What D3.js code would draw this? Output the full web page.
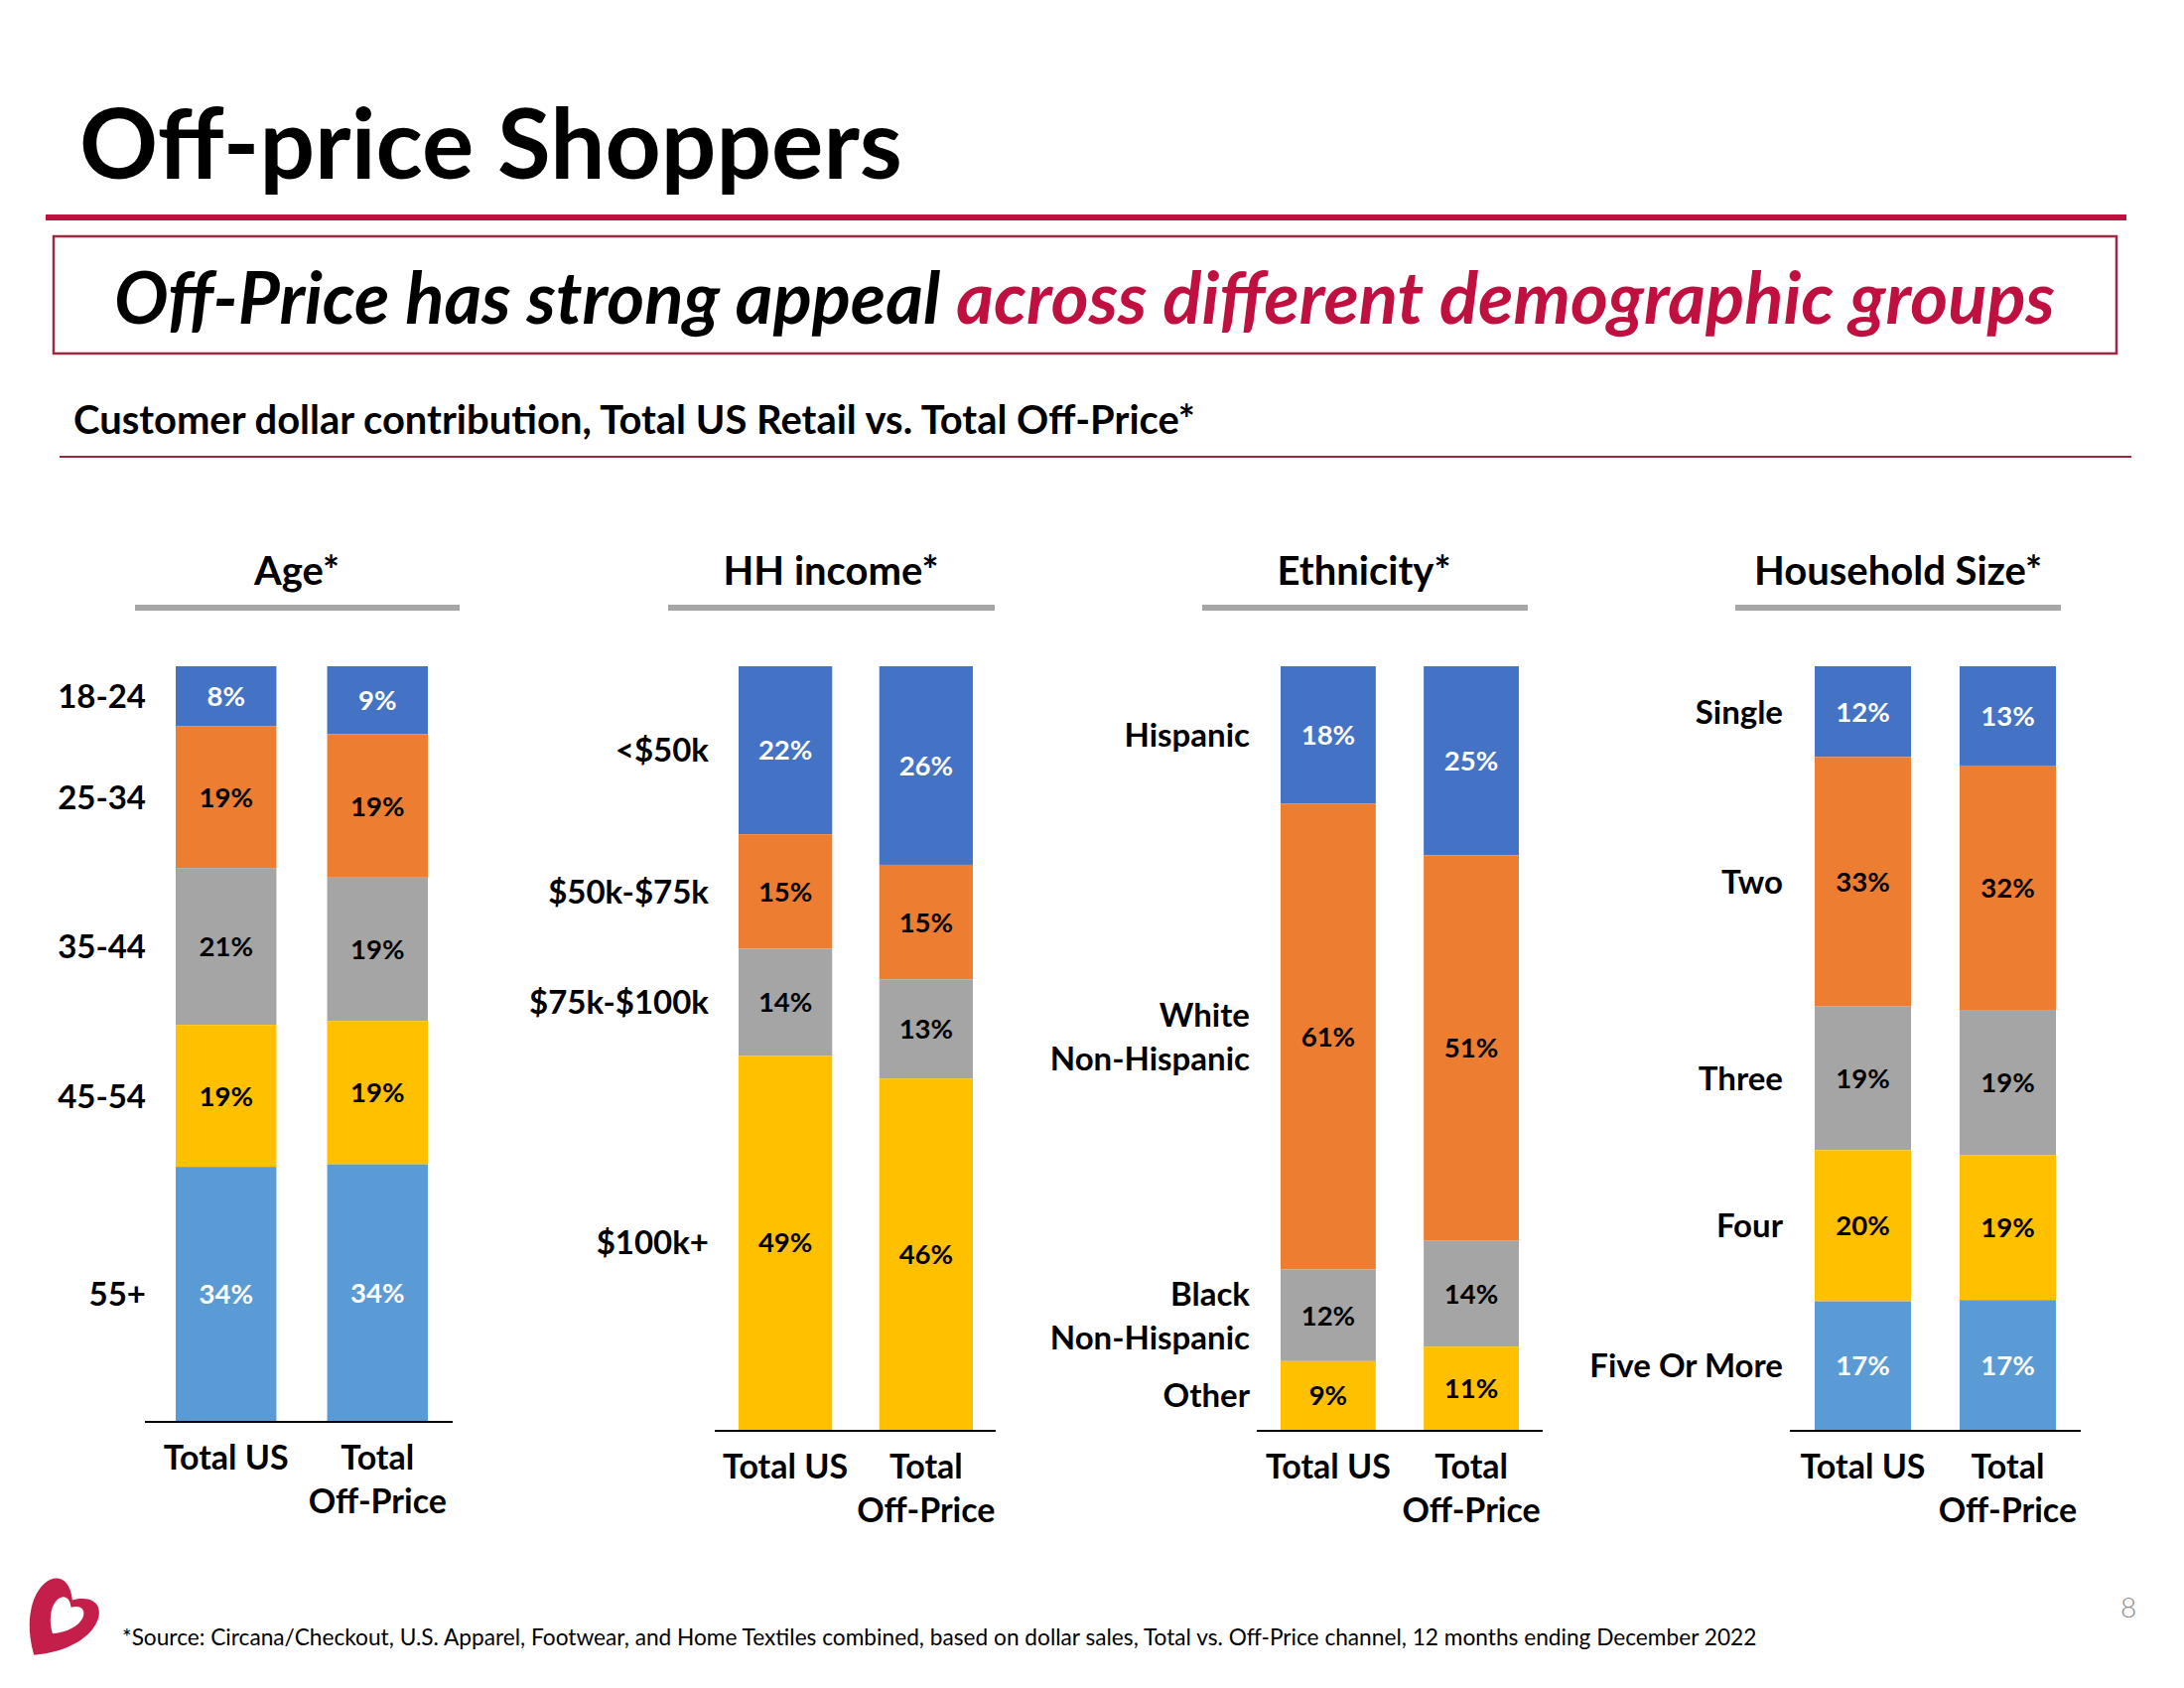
<!DOCTYPE html>
<html>
<head>
<meta charset="utf-8">
<script src="https://cdn.jsdelivr.net/npm/d3@7"></script>
<style>
  html, body { margin: 0; padding: 0; background: #fff; }
  svg { display: block; font-family: Lato, "Open Sans", sans-serif; }
</style>
</head>
<body>
<svg id="chart" width="2200" height="1700"></svg>
<script>
// ---------------- DATA ----------------
const columns = ["Total US", "Total Off-Price"];

const ageCats = ["18-24", "25-34", "35-44", "45-54", "55+"];
const ageTotalUS = [8, 19, 21, 19, 34];
const ageOffPrice = [9, 19, 19, 19, 34];

const incomeCats = ["<$50k", "$50k-$75k", "$75k-$100k", "$100k+"];
const incomeTotalUS = [22, 15, 14, 49];
const incomeOffPrice = [26, 15, 13, 46];

const ethCats = ["Hispanic", "White\nNon-Hispanic", "Black\nNon-Hispanic", "Other"];
const ethTotalUS = [18, 61, 12, 9];
const ethOffPrice = [25, 51, 14, 11];

const hhCats = ["Single", "Two", "Three", "Four", "Five Or More"];
const hhTotalUS = [12, 33, 19, 20, 17];
const hhOffPrice = [13, 32, 19, 19, 17];

// ---------------- STYLE / LAYOUT ----------------
const segColors = ["#4472C4", "#ED7D31", "#A5A5A5", "#FFC000", "#5B9BD5"];
const whiteLabel = new Set(["#4472C4", "#5B9BD5"]);
const crimson = "#C0103F";

const svg = d3.select("#chart");

function fitWidth(sel, target) {
  const node = sel.node();
  const fs = parseFloat(sel.attr("font-size"));
  const w = node.getComputedTextLength();
  sel.attr("font-size", (fs * target / w).toFixed(2));
}

// Title
const title = svg.append("text").attr("x", 80).attr("y", 180)
  .attr("font-size", 96).attr("font-weight", 700).attr("fill", "#000")
  .text("Off-price Shoppers");
fitWidth(title, 829);

// thick red rule
svg.append("rect").attr("x", 46).attr("y", 216).attr("width", 2096).attr("height", 6).attr("fill", crimson);

// headline box
svg.append("rect").attr("x", 54).attr("y", 238).attr("width", 2078).attr("height", 118)
  .attr("fill", "none").attr("stroke", "#9E2A42").attr("stroke-width", 2.5);
const head = svg.append("text").attr("x", 115).attr("y", 326)
  .attr("font-size", 64).attr("font-weight", 700).attr("font-style", "italic");
head.append("tspan").attr("fill", "#000").text("Off-Price has strong appeal ");
head.append("tspan").attr("fill", crimson).text("across different demographic groups");
fitWidth(head, 1955);

// subtitle
const sub = svg.append("text").attr("x", 74).attr("y", 437)
  .attr("font-size", 34).attr("font-weight", 700).attr("fill", "#000")
  .text("Customer dollar contribution, Total US Retail vs. Total Off-Price*");
fitWidth(sub, 1130);
svg.append("rect").attr("x", 60).attr("y", 459).attr("width", 2087).attr("height", 2).attr("fill", "#A0283C");

// ---------------- PANELS ----------------
const panels = [
  { title: "Age*", cats: ageCats, vals: [ageTotalUS, ageOffPrice],
    titleX: 299, lineX: [136, 463], axis: [146, 456], bars: [177, 431], bottom: 1431, labelX: 147 },
  { title: "HH income*", cats: incomeCats, vals: [incomeTotalUS, incomeOffPrice],
    titleX: 837, lineX: [673, 1002], axis: [720, 1003], bars: [744, 980], bottom: 1440, labelX: 714 },
  { title: "Ethnicity*", cats: ethCats, vals: [ethTotalUS, ethOffPrice],
    titleX: 1374, lineX: [1211, 1539], axis: [1266, 1554], bars: [1290, 1530], bottom: 1440, labelX: 1259 },
  { title: "Household Size*", cats: hhCats, vals: [hhTotalUS, hhOffPrice],
    titleX: 1912, lineX: [1748, 2076], axis: [1803, 2096], bars: [1828, 2071], bottom: 1440, labelX: 1796 }
];
const barTop = 671;

panels.forEach(p => {
  const g = svg.append("g");

  // panel title + grey underline
  g.append("text").attr("x", p.titleX).attr("y", 589).attr("text-anchor", "middle")
    .attr("font-size", 40).attr("font-weight", 700).text(p.title);
  g.append("rect").attr("x", p.lineX[0]).attr("y", 609).attr("width", p.lineX[1] - p.lineX[0])
    .attr("height", 6).attr("fill", "#A6A6A6");

  // data table: one row per column, keys = categories
  const rows = columns.map((c, ci) => {
    const r = { col: c };
    p.cats.forEach((k, i) => r[k] = p.vals[ci][i]);
    return r;
  });
  const stack = d3.stack().keys(p.cats)
    .order(d3.stackOrderReverse).offset(d3.stackOffsetExpand);
  const series = stack(rows);

  const x = d3.scaleBand().domain(columns).range(p.bars).paddingInner(0.335).paddingOuter(0);
  const y = d3.scaleLinear().domain([0, 1]).range([p.bottom, barTop]);
  const color = d3.scaleOrdinal().domain(p.cats).range(segColors);

  const sg = g.selectAll("g.seg").data(series).join("g").attr("class", "seg")
    .attr("fill", d => color(d.key));
  sg.selectAll("rect").data(d => d).join("rect")
    .attr("x", d => x(d.data.col))
    .attr("width", x.bandwidth())
    .attr("y", d => y(d[1]))
    .attr("height", d => y(d[0]) - y(d[1]));

  // value labels
  series.forEach(s => {
    s.forEach(d => {
      const c = color(s.key);
      g.append("text")
        .attr("x", x(d.data.col) + x.bandwidth() / 2)
        .attr("y", (y(d[0]) + y(d[1])) / 2)
        .attr("dy", "0.36em")
        .attr("text-anchor", "middle")
        .attr("font-size", 27.5).attr("font-weight", 700)
        .attr("fill", whiteLabel.has(c) ? "#fff" : "#000")
        .text(d.data[s.key] + "%");
    });
  });

  // category labels at Total US segment centres
  series.forEach(s => {
    const d = s[0];
    const cy = (y(d[0]) + y(d[1])) / 2;
    const lines = s.key.split("\n");
    const t = g.append("text").attr("x", p.labelX).attr("text-anchor", "end")
      .attr("font-size", 33).attr("font-weight", 700).attr("fill", "#000");
    lines.forEach((ln, i) => {
      t.append("tspan").attr("x", p.labelX)
        .attr("y", cy + (i - (lines.length - 1) / 2) * 44)
        .attr("dy", "0.36em").text(ln);
    });
  });

  // axis baseline
  const xAxis = d3.axisBottom(x).tickSize(0).tickFormat("");
  const ax = g.append("g").attr("transform", `translate(0,${p.bottom})`).call(xAxis);
  ax.select(".domain").remove();
  g.append("line").attr("x1", p.axis[0]).attr("x2", p.axis[1])
    .attr("y1", p.bottom + 1).attr("y2", p.bottom + 1)
    .attr("stroke", "#000").attr("stroke-width", 2.2);

  // column labels
  columns.forEach(c => {
    const cx = x(c) + x.bandwidth() / 2;
    const parts = c === "Total US" ? ["Total US"] : ["Total", "Off-Price"];
    parts.forEach((pt, i) => {
      g.append("text").attr("x", cx).attr("y", p.bottom + 49 + i * 44)
        .attr("text-anchor", "middle").attr("font-size", 34).attr("font-weight", 700)
        .text(pt);
    });
  });
});

// ---------------- FOOTER ----------------
const foot = svg.append("text").attr("x", 123).attr("y", 1657)
  .attr("font-size", 21).attr("fill", "#000")
  .text("*Source: Circana/Checkout, U.S. Apparel, Footwear, and Home Textiles combined, based on dollar sales, Total vs. Off-Price channel, 12 months ending December 2022");
fitWidth(foot, 1647);

svg.append("text").attr("x", 2144).attr("y", 1629).attr("text-anchor", "middle")
  .attr("font-size", 28).attr("font-weight", 300).attr("fill", "#8C8C8C").text("8");

// logo: heart-shaped "B"
const heart = "M0,0.9 C-1.25,-0.05 -0.65,-1.15 0,-0.45 C0.65,-1.15 1.25,-0.05 0,0.9 Z";
const logo = svg.append("g").attr("transform", "translate(60,1630) rotate(35)");
logo.append("path").attr("d", heart).attr("transform", "scale(46,50)").attr("fill", "#C41E4A");
logo.append("path").attr("d", heart).attr("transform", "translate(3,-5) scale(22,24)").attr("fill", "#fff");
</script>
</body>
</html>
